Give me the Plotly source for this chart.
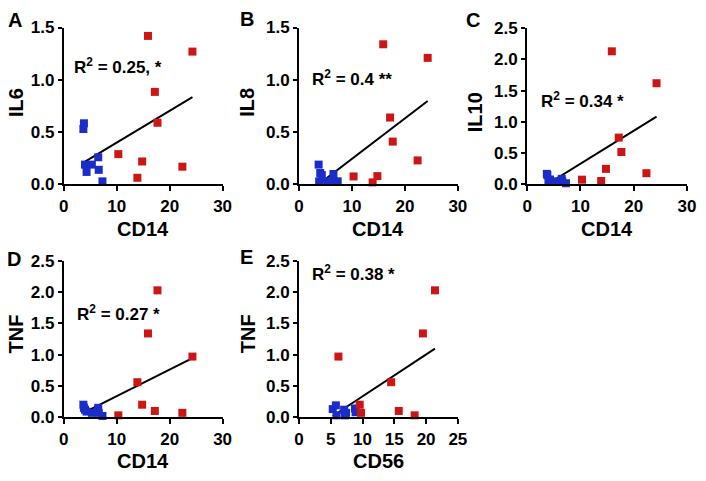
import numpy as np
import plotly.graph_objects as go

# ---------------- data ----------------
cd14_blue = [3.7, 3.8, 4.0, 4.3, 5.3, 6.5, 6.6, 7.3]
cd14_red = [10.3, 13.9, 14.8, 15.9, 17.2, 17.7, 22.4, 24.3]

il6_blue = [0.53, 0.585, 0.19, 0.12, 0.19, 0.26, 0.14, 0.03]
il6_red = [0.29, 0.064, 0.22, 1.42, 0.885, 0.59, 0.17, 1.27]

il8_blue = [0.19, 0.03, 0.11, 0.09, 0.03, 0.10, 0.03, 0.03]
il8_red = [0.077, 0.02, 0.08, 1.34, 0.64, 0.41, 0.23, 1.21]

il10_blue = [0.17, 0.15, 0.07, 0.08, 0.05, 0.09, 0.05, 0.02]
il10_red = [0.077, 0.056, 0.25, 2.13, 0.75, 0.52, 0.18, 1.62]

tnf_blue = [0.20, 0.15, 0.12, 0.09, 0.07, 0.15, 0.07, 0.02]
tnf_red = [0.03, 0.56, 0.20, 1.34, 0.10, 2.03, 0.07, 0.97]

cd56_blue = [5.3, 5.8, 5.9, 7.1, 7.4, 7.2, 8.8, 8.9]
tnf_e_blue = [0.13, 0.19, 0.03, 0.12, 0.07, 0.03, 0.14, 0.08]
cd56_red = [18.2, 14.5, 9.55, 19.5, 15.7, 21.4, 9.75, 6.2]

panel_letters = ["A", "B", "C", "D", "E"]
x_titles = ["CD14", "CD14", "CD14", "CD14", "CD56"]
y_titles = ["IL6", "IL8", "IL10", "TNF", "TNF"]
r2_labels = ["R<sup>2</sup> = 0.25, *", "R<sup>2</sup> = 0.4 **", "R<sup>2</sup> = 0.34 *",
             "R<sup>2</sup> = 0.27 *", "R<sup>2</sup> = 0.38 *"]

panels = [
    (cd14_blue, il6_blue, cd14_red, il6_red, 30, 1.5),
    (cd14_blue, il8_blue, cd14_red, il8_red, 30, 1.5),
    (cd14_blue, il10_blue, cd14_red, il10_red, 30, 2.5),
    (cd14_blue, tnf_blue, cd14_red, tnf_red, 30, 2.5),
    (cd56_blue, tnf_e_blue, cd56_red, tnf_red, 25, 2.5),
]

# ---------------- layout (pixel geometry) ----------------
W, H = 706, 481
BLUE = "#1B2DC8"
RED = "#CC1515"
FONT = "Liberation Sans, Arial, sans-serif"


def px(x):
    return x / W


def py(y):
    return 1 - y / H


# (x0, x1, ytop, ybottom) in page pixels
boxes = [
    (60, 222, 19.3, 182.7),
    (300, 462, 19.3, 182.7),
    (532.7, 695.7, 20, 182.7),
    (60, 222, 262.3, 425),
    (300, 462, 262.3, 425),
]
r2_pos = [(68, 59), (311, 72), (545, 95), (71, 317), (311, 275)]
ytitle_pos = [(11, 97), (247.5, 97), (479, 108), (11, 338), (247.5, 338)]
letter_pos = [(1, 11), (238, 10), (468, 11), (0, 260), (238, 258)]

fig = go.Figure()
annotations = []
layout = {}

for i, ((xb, yb, xr, yr, xmax, ymax), box) in enumerate(zip(panels, boxes)):
    n = "" if i == 0 else str(i + 1)
    xa, ya = "x" + n, "y" + n
    x0, x1, yt, ybm = box

    xs = np.array(list(xb) + list(xr))
    ys = np.array(list(yb) + list(yr))
    k, b = np.polyfit(xs, ys, 1)
    lx = np.array([xs.min(), xs.max()])
    fig.add_trace(go.Scatter(x=lx, y=k * lx + b, mode="lines",
                             line=dict(color="black", width=2),
                             xaxis=xa, yaxis=ya, showlegend=False, hoverinfo="skip"))
    fig.add_trace(go.Scatter(x=xb, y=yb, mode="markers",
                             marker=dict(symbol="square", size=8, color=BLUE),
                             xaxis=xa, yaxis=ya, showlegend=False, cliponaxis=False))
    fig.add_trace(go.Scatter(x=xr, y=yr, mode="markers",
                             marker=dict(symbol="square", size=8, color=RED),
                             xaxis=xa, yaxis=ya, showlegend=False, cliponaxis=False))

    xstep = 10 if xmax == 30 else 5
    layout["xaxis" + n] = dict(
        domain=[px(x0), px(x1)], anchor=ya, range=[0, xmax],
        tickvals=list(range(0, xmax + 1, xstep)),
        showgrid=False, zeroline=False, showline=True, linecolor="black", linewidth=2,
        ticks="outside", ticklen=5, tickwidth=2, tickcolor="black",
        tickfont=dict(family=FONT, size=17, color="black", weight="bold"),
    )
    yvals = [j * 0.5 for j in range(int(ymax / 0.5) + 1)]
    layout["yaxis" + n] = dict(
        domain=[py(ybm), py(yt)], anchor=xa, range=[0, ymax],
        tickvals=yvals, ticktext=[f"{v:.1f}" for v in yvals],
        showgrid=False, zeroline=False, showline=True, linecolor="black", linewidth=2,
        ticks="outside", ticklen=4, tickwidth=2, tickcolor="black",
        tickfont=dict(family=FONT, size=17, color="black", weight="bold"),
    )

    # x title
    annotations.append(dict(text="<b>" + x_titles[i] + "</b>", xref="paper", yref="paper",
                            x=px((x0 + x1) / 2), y=py(ybm + 46),
                            showarrow=False, xanchor="center", yanchor="middle",
                            font=dict(family=FONT, size=20, color="black")))
    # y title
    tx, ty = ytitle_pos[i]
    annotations.append(dict(text="<b>" + y_titles[i] + "</b>", xref="paper", yref="paper",
                            x=px(tx), y=py(ty), textangle=-90,
                            showarrow=False, xanchor="center", yanchor="middle",
                            font=dict(family=FONT, size=20, color="black")))
    # panel letter
    lxp, lyp = letter_pos[i]
    annotations.append(dict(text="<b>" + panel_letters[i] + "</b>", xref="paper", yref="paper",
                            x=px(lxp), y=py(lyp),
                            showarrow=False, xanchor="left", yanchor="middle",
                            font=dict(family=FONT, size=20, color="black")))
    # R^2 label
    rx, ry = r2_pos[i]
    annotations.append(dict(text="<b>" + r2_labels[i] + "</b>", xref="paper", yref="paper",
                            x=px(rx), y=py(ry),
                            showarrow=False, xanchor="left", yanchor="middle",
                            font=dict(family=FONT, size=17, color="black")))

fig.update_layout(
    width=W, height=H,
    margin=dict(l=0, r=0, t=0, b=0),
    paper_bgcolor="white", plot_bgcolor="white",
    annotations=annotations,
    **layout,
)

fig.write_html("out.html", config={"displayModeBar": False},
               post_script="document.body.style.margin='0';")
